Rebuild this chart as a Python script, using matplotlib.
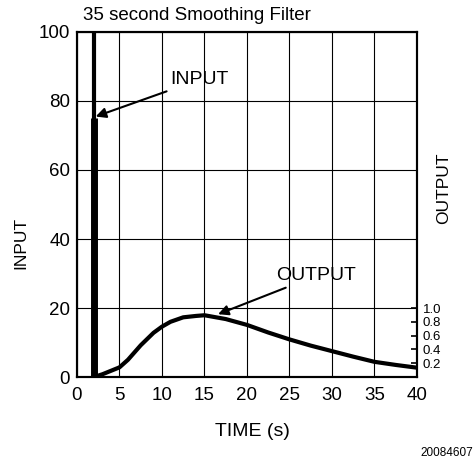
import matplotlib
matplotlib.use("Agg")
import matplotlib.pyplot as plt

plt.rcParams['font.family'] = ['Liberation Sans', 'DejaVu Sans']

# Dane
time_ticks = [0, 5, 10, 15, 20, 25, 30, 35, 40]
input_ticks = [0, 20, 40, 60, 80, 100]
output_ticks = [0.2, 0.4, 0.6, 0.8, 1.0]
output_tick_labels = ['0.2', '0.4', '0.6', '0.8', '1.0']

# Impuls wejściowy
input_time = [2.0, 2.0]
input_level = [0, 100]
input_lower_level = [0, 75]

# Odpowiedź filtru (skala prawej osi)
output_time = [2.0, 3.0, 4.0, 5.0, 6.0, 7.5, 9.0, 10.0, 11.0, 12.5, 14.0, 15.0,
               17.5, 20.0, 22.5, 25.0, 27.5, 30.0, 32.5, 35.0, 37.5, 40.0]
output_level = [0.0, 0.04, 0.09, 0.14, 0.25, 0.46, 0.64, 0.73, 0.80, 0.865, 0.885, 0.895,
                0.84, 0.755, 0.645, 0.545, 0.455, 0.375, 0.295, 0.22, 0.175, 0.135]

fig = plt.figure(figsize=(4.74, 4.67), dpi=100)
ax = fig.add_axes([0.1624, 0.1927, 0.7173, 0.7388])

ax.plot(input_time, input_level, color='black', lw=3, solid_capstyle='butt')
ax.plot(input_time, input_lower_level, color='black', lw=5, solid_capstyle='butt')

ax.set_xlim(0, 40)
ax.set_ylim(0, 100)
ax.set_xticks(time_ticks)
ax.set_yticks(input_ticks)
ax.tick_params(length=0, labelsize=13.5)
ax.tick_params(axis='x', pad=7)
ax.tick_params(axis='y', pad=5)
ax.grid(True, color='black', lw=0.8)
for s in ax.spines.values():
    s.set_linewidth(1.5)

ax2 = ax.twinx()
ax2.plot(output_time, output_level, color='black', lw=3, solid_capstyle='butt')
ax2.set_ylim(0, 5)
ax2.set_yticks(output_ticks)
ax2.set_yticklabels(output_tick_labels)
ax2.tick_params(direction='in', length=4, width=1.2, labelsize=9.5, pad=4)
for s in ax2.spines.values():
    s.set_linewidth(1.5)

ax.annotate('INPUT', xy=(2.2, 75.5), xytext=(11.0, 86.2), fontsize=14,
            va='center', ha='left',
            arrowprops=dict(arrowstyle='-|>', color='black', lw=1.5,
                            mutation_scale=15, shrinkA=1, shrinkB=0))
ax.annotate('OUTPUT', xy=(16.6, 18.2), xytext=(23.4, 29.3), fontsize=14,
            va='center', ha='left',
            arrowprops=dict(arrowstyle='-|>', color='black', lw=1.5,
                            mutation_scale=15, shrinkA=1, shrinkB=0))

fig.text(83 / 474, 1 - 16 / 467, '35 second Smoothing Filter', fontsize=13.5,
         ha='left', va='center')
fig.text(21 / 474, 1 - 243 / 467, 'INPUT', fontsize=12.5, rotation=90,
         ha='center', va='center')
fig.text(444 / 474, 1 - 188 / 467, 'OUTPUT', fontsize=12.5, rotation=90,
         ha='center', va='center')
fig.text(252 / 474, 1 - 432 / 467, 'TIME (s)', fontsize=14,
         ha='center', va='center')
fig.text(473 / 474, 1 - 453 / 467, '20084607', fontsize=8.5, ha='right', va='center')

fig.savefig('out.png', dpi=100)
